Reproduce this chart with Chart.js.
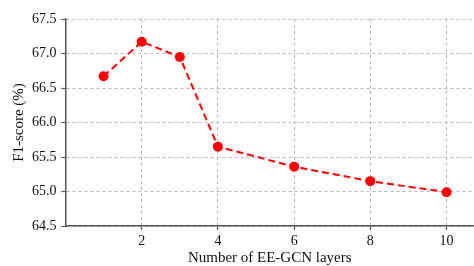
<!DOCTYPE html>
<html><head><meta charset="utf-8">
<script src="https://cdn.jsdelivr.net/npm/chart.js@4"></script>
<style>html,body{margin:0;padding:0;background:#fff}#wrap{width:474px;height:266px}</style>
</head><body><div id="wrap"><canvas id="c" width="474" height="266"></canvas></div>
<script>
const layers = [1, 2, 3, 4, 6, 8, 10];
const f1Scores = [66.67, 67.17, 66.95, 65.65, 65.36, 65.15, 64.99];
const xTicks = [2, 4, 6, 8, 10];
const yTicks = [64.5, 65.0, 65.5, 66.0, 66.5, 67.0, 67.5];
const xTitle = 'Number of EE-GCN layers';
const yTitle = 'F1-score (%)';

const FONT = 'Liberation Serif';
const axisColor = '#555555';
const gridColor = '#b8b8b8';

new Chart(document.getElementById('c'), {
  type: 'line',
  data: {
    datasets: [{
      data: layers.map((x, i) => ({x: x, y: f1Scores[i]})),
      borderColor: '#ff0000',
      backgroundColor: '#ff0000',
      borderWidth: 2,
      borderDash: [7, 4],
      pointRadius: 5,
      pointHoverRadius: 5,
      pointBorderWidth: 0,
      tension: 0,
      fill: false
    }]
  },
  options: {
    responsive: false,
    animation: false,
    devicePixelRatio: 1,
    layout: {autoPadding: false, padding: {top: 19, right: 0, bottom: 0, left: 0}},
    plugins: {legend: {display: false}, tooltip: {enabled: false}},
    scales: {
      x: {
        type: 'linear',
        min: 0, max: 10.72,
        afterBuildTicks: s => { s.ticks = xTicks.map(v => ({value: v})); },
        afterFit: s => { s.height = 40; s.paddingRight = 0; s.paddingLeft = 0; },
        grid: {color: gridColor, lineWidth: 1, drawTicks: true, tickLength: 4, tickColor: axisColor, tickWidth: 1.2, tickBorderDash: []},
        border: {display: true, color: axisColor, width: 1.5, dash: [3, 3]},
        ticks: {font: {family: FONT, size: 14}, color: '#111', padding: 3, maxRotation: 0,
          callback: v => String(v)},
        title: {display: true, text: xTitle, font: {family: FONT, size: 15, lineHeight: 1}, color: '#111', padding: {top: 0, bottom: 0}}
      },
      y: {
        type: 'linear',
        min: 64.5, max: 67.5,
        afterBuildTicks: s => { s.ticks = yTicks.map(v => ({value: v})); },
        afterFit: s => { s.width = 65.5; s.paddingTop = 0; s.paddingBottom = 0; },
        grid: {color: gridColor, lineWidth: 1, drawTicks: true, tickLength: 4, tickColor: axisColor, tickWidth: 1.2, tickBorderDash: []},
        border: {display: true, color: axisColor, width: 1.5, dash: [3, 3]},
        ticks: {font: {family: FONT, size: 14}, color: '#111', padding: 5,
          callback: v => Number(v).toFixed(1)},
        title: {display: true, text: yTitle, font: {family: FONT, size: 15, lineHeight: 1.2}, color: '#111', padding: {top: 10, bottom: 0}}
      }
    }
  }
});
</script></body></html>
